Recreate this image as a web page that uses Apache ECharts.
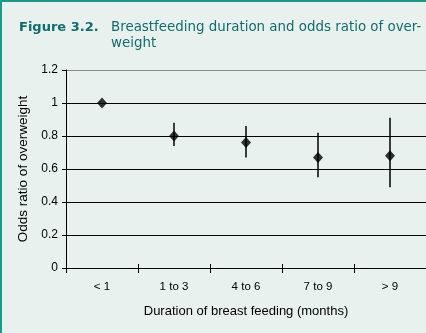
<!DOCTYPE html>
<html>
<head>
<meta charset="utf-8">
<script src="https://cdn.jsdelivr.net/npm/echarts@6/dist/echarts.min.js"></script>
<style>
  html, body { margin: 0; padding: 0; background: #e8f1ed; }
  #chart { width: 426px; height: 333px; }
</style>
</head>
<body>
<div id="chart"></div>
<script>
// Breastfeeding duration categories (months)
const categories = ['< 1', '1 to 3', '4 to 6', '7 to 9', '> 9'];
// Odds ratio of overweight and 95% confidence limits
const oddsRatio = [1.00, 0.80, 0.76, 0.67, 0.68];
const lowerCI   = [1.00, 0.74, 0.67, 0.55, 0.49];
const upperCI   = [1.00, 0.88, 0.86, 0.82, 0.91];
// Y axis ticks
const yTicks = [0, 0.2, 0.4, 0.6, 0.8, 1, 1.2];

const chart = echarts.init(document.getElementById('chart'), null, { renderer: 'canvas' });

const labelFont = 'Liberation Sans, Arial, sans-serif';
const titleFont = 'DejaVu Sans, Verdana, sans-serif';

const option = {
  backgroundColor: '#e8f1ed',
  animation: false,
  title: [
    {
      text: 'Figure 3.2.',
      left: 19, top: 20, padding: 0,
      textStyle: { fontFamily: titleFont, fontSize: 13, fontWeight: 'bold', color: '#0f6e6c', lineHeight: 16 }
    },
    {
      text: 'Breastfeeding duration and odds ratio of over-\nweight',
      left: 111, top: 20, padding: 0,
      textStyle: { fontFamily: titleFont, fontSize: 13.4, fontWeight: 'normal', color: '#0f6e6c', lineHeight: 16 }
    }
  ],
  graphic: [
    { type: 'rect', shape: { x: 0, y: 0, width: 426, height: 2 }, style: { fill: '#1f9888' }, silent: true },
    { type: 'rect', shape: { x: 0, y: 0, width: 2, height: 333 }, style: { fill: '#1f9888' }, silent: true }
  ],
  grid: { left: 66, right: 0, top: 70, bottom: 65 },
  xAxis: [
    {
      type: 'category',
      data: categories,
      boundaryGap: true,
      axisLine: { lineStyle: { color: '#000', width: 1 } },
      axisTick: { show: true, length: 5, lineStyle: { color: '#000' } },
      axisLabel: { color: '#000', fontFamily: labelFont, fontSize: 11.5, margin: 13 },
      name: 'Duration of breast feeding (months)',
      nameLocation: 'middle',
      nameGap: 37,
      nameTextStyle: { color: '#000', fontFamily: labelFont, fontSize: 13 },
      splitLine: { show: false }
    },
    {
      type: 'category',
      data: categories,
      position: 'bottom',
      boundaryGap: true,
      axisLine: { show: false },
      axisTick: { show: true, inside: true, length: 4, lineStyle: { color: '#000' } },
      axisLabel: { show: false },
      splitLine: { show: false }
    }
  ],
  yAxis: {
    type: 'value',
    min: yTicks[0],
    max: yTicks[yTicks.length - 1],
    interval: 0.2,
    axisLine: { show: true, lineStyle: { color: '#000', width: 1 } },
    axisTick: { show: true, length: 4, lineStyle: { color: '#000' } },
    axisLabel: {
      color: '#000', fontFamily: labelFont, fontSize: 12, margin: 8,
      formatter: v => String(Math.round(v * 10) / 10)
    },
    splitLine: {
      show: true,
      lineStyle: { color: ['#000', '#000', '#000', '#000', '#000', '#000', '#8a8a8a'], width: 1 }
    },
    name: 'Odds ratio of overweight',
    nameLocation: 'middle',
    nameGap: 35,
    nameTextStyle: { color: '#000', fontFamily: labelFont, fontSize: 13.5 }
  },
  series: [
    {
      type: 'custom',
      name: 'CI',
      data: categories.map((c, i) => [i, lowerCI[i], upperCI[i]]),
      renderItem: function (params, api) {
        const lo = api.coord([api.value(0), api.value(1)]);
        const hi = api.coord([api.value(0), api.value(2)]);
        return {
          type: 'line',
          shape: { x1: lo[0], y1: lo[1], x2: hi[0], y2: hi[1] },
          style: { stroke: '#000', lineWidth: 1.5 }
        };
      },
      z: 2
    },
    {
      type: 'scatter',
      name: 'Odds ratio',
      data: oddsRatio,
      symbol: 'diamond',
      symbolSize: [10, 11],
      itemStyle: { color: '#000' },
      z: 3
    }
  ]
};

chart.setOption(option);
</script>
</body>
</html>
